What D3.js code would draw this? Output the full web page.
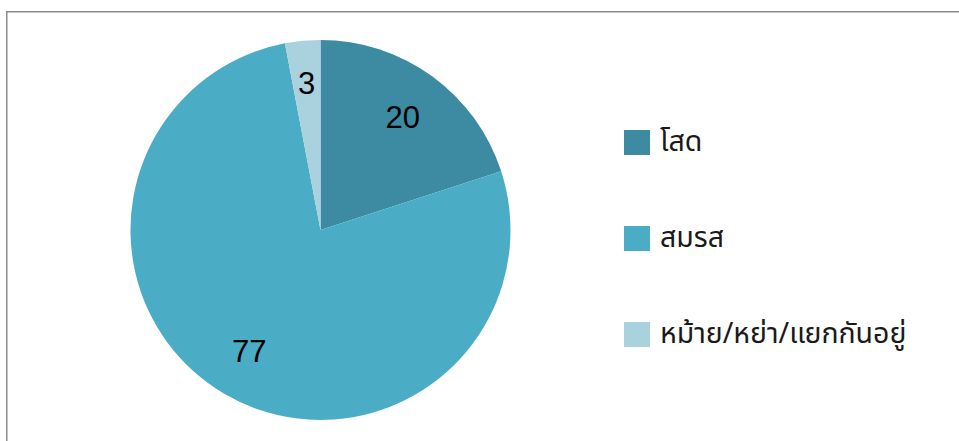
<!DOCTYPE html>
<html>
<head>
<meta charset="utf-8">
<script src="https://cdn.jsdelivr.net/npm/d3@7"></script>
<style>
  html, body { margin: 0; padding: 0; background: #fff; }
  svg { display: block; }
</style>
</head>
<body>
<svg id="chart" width="959" height="441"></svg>
<script>
// Marital status shares (%)
const categories = ["โสด", "สมรส", "หม้าย/หย่า/แยกกันอยู่"];
const values = [20, 77, 3];
const colors = ["#3d8ba3", "#4aacc5", "#a9d1de"];

const svg = d3.select("#chart");
const width = 959, height = 441;

// Frame
svg.append("rect")
  .attr("x", 6.75).attr("y", 11.75)
  .attr("width", width + 20).attr("height", height + 20)
  .attr("fill", "none")
  .attr("stroke", "#8a8a8a")
  .attr("stroke-width", 1.5);

const cx = 320.5, cy = 230, R = 190;
const g = svg.append("g").attr("transform", `translate(${cx},${cy})`);

const pie = d3.pie().value(d => d.value).sort(null);
const data = categories.map((c, i) => ({ name: c, value: values[i], color: colors[i] }));
const arcs = pie(data);

const arc = d3.arc().innerRadius(0).outerRadius(R);
// the thin slice gets its label pushed a little further out
const labelRadius = d => (d.endAngle - d.startAngle < 0.3 ? 148 : 140);

g.selectAll("path.slice")
  .data(arcs)
  .enter().append("path")
  .attr("class", "slice")
  .attr("d", arc)
  .attr("fill", d => d.data.color);

g.selectAll("text.val")
  .data(arcs)
  .enter().append("text")
  .attr("class", "val")
  .attr("transform", d => {
    const r = labelRadius(d);
    const [x, y] = d3.arc().innerRadius(r).outerRadius(r).centroid(d);
    return `translate(${x},${y})`;
  })
  .attr("text-anchor", "middle")
  .attr("dy", "0.36em")
  .attr("font-family", "'Liberation Sans', Arial, sans-serif")
  .attr("font-size", 31)
  .attr("fill", "#000")
  .text(d => d.data.value);

// Legend
const legend = svg.append("g").attr("transform", "translate(624,130)");
const item = legend.selectAll("g.item")
  .data(data)
  .enter().append("g")
  .attr("class", "item")
  .attr("transform", (d, i) => `translate(0,${i * 96})`);

item.append("rect")
  .attr("width", 26).attr("height", 25)
  .attr("fill", d => d.color);

item.append("text")
  .attr("x", 36).attr("y", 21)
  .attr("font-family", "'Noto Sans Thai', 'Noto Sans Thai Looped', Tahoma, 'DejaVu Sans', sans-serif")
  .attr("font-size", 28.5)
  .attr("fill", "#1a1a1a")
  .text(d => d.name);
</script>
</body>
</html>
